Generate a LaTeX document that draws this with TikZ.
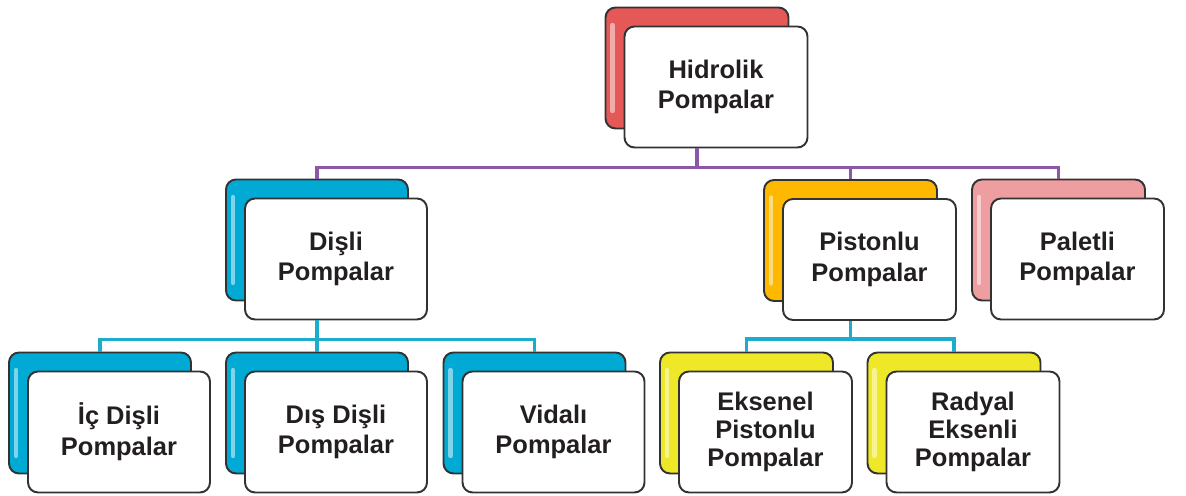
\documentclass[tikz,border=0pt]{standalone}
\usepackage{fontspec}
\setmainfont{Liberation Sans}

\definecolor{hidred}{RGB}{228,88,88}
\definecolor{gearcyan}{RGB}{0,170,212}
\definecolor{pistorange}{RGB}{255,184,0}
\definecolor{palpink}{RGB}{238,158,160}
\definecolor{eksyellow}{RGB}{238,232,40}
\definecolor{purplebus}{RGB}{138,88,166}
\definecolor{cyanbus}{RGB}{28,172,204}
\definecolor{boxline}{RGB}{50,50,50}
\definecolor{txt}{RGB}{35,31,32}

\begin{document}
\begin{tikzpicture}[x=0.02cm, y=0.02cm,
			cardback/.style={draw=boxline, line width=1.1pt, rounded corners=0.2cm, minimum width=3.64cm, minimum height=2.42cm, inner sep=0pt,
				path picture={\draw[white, opacity=0.5, line width=2.5pt, line cap=round] ([xshift=0.14cm, yshift=-0.35cm]path picture bounding box.north west) -- ([xshift=0.14cm, yshift=0.35cm]path picture bounding box.south west);}},
			card/.style={draw=boxline, line width=1.1pt, rounded corners=0.2cm, minimum width=3.64cm, minimum height=2.42cm, inner sep=0pt,
				fill=white, text=txt, align=center, font=\bfseries\fontsize{14.5}{17.5}\selectfont},
			narrow/.style={minimum width=3.46cm},
			threeline/.style={font=\bfseries\fontsize{14.5}{16}\selectfont},
			bus/.style={line width=2.2pt}]
			
			\useasboundingbox (0,0) rectangle (1186,496);
			
			% top
			\node[cardback, minimum width=3.66cm, fill=hidred] (hidb) at (697,428) {};
			\node[card, minimum width=3.66cm] (hid) at ([shift={(19,-19)}]hidb.center) {Hidrolik\\Pompalar};
			
			% middle row
			\node[cardback, fill=gearcyan] (disb) at (317,256) {};
			\node[card] (dis) at ([shift={(19,-19)}]disb.center) {Dişli\\Pompalar};
			\node[cardback, narrow, fill=pistorange] (pisb) at (850.5,255.5) {};
			\node[card, narrow] (pis) at ([shift={(19,-19)}]pisb.center) {Pistonlu\\Pompalar};
			\node[cardback, narrow, fill=palpink] (palb) at (1058.5,256) {};
			\node[card, narrow] (pal) at ([shift={(19,-19)}]palb.center) {Paletli\\Pompalar};
			
			% bottom row
			\node[cardback, fill=gearcyan] (icb) at (100,83) {};
			\node[card] (ic) at ([shift={(19,-19)}]icb.center) {İç Dişli\\Pompalar};
			\node[cardback, fill=gearcyan] (dsb) at (317,83) {};
			\node[card] (ds) at ([shift={(19,-19)}]dsb.center) {Dış Dişli\\Pompalar};
			\node[cardback, fill=gearcyan] (vidb) at (534.5,83) {};
			\node[card] (vid) at ([shift={(19,-19)}]vidb.center) {Vidalı\\Pompalar};
			\node[cardback, narrow, fill=eksyellow] (eksb) at (746.5,83) {};
			\node[card, narrow, threeline] (eks) at ([shift={(19,-19)}]eksb.center) {Eksenel\\Pistonlu\\Pompalar};
			\node[cardback, narrow, fill=eksyellow] (radb) at (954,83) {};
			\node[card, narrow, threeline] (rad) at ([shift={(19,-19)}]radb.center) {Radyal\\Eksenli\\Pompalar};
			
			% connectors
			\draw[bus, purplebus] (hidb.south |- hid.south) -- ++(0,-19) -| (disb.north);
			\draw[bus, purplebus] (hidb.south |- hid.south) -- ++(0,-19) -| (pisb.north);
			\draw[bus, purplebus] (hidb.south |- hid.south) -- ++(0,-19) -| (palb.north);
			\draw[bus, cyanbus] (disb.south |- dis.south) -- ++(0,-19) -| (icb.north);
			\draw[bus, cyanbus] (disb.south |- dis.south) -- ++(0,-19) -| (dsb.north);
			\draw[bus, cyanbus] (disb.south |- dis.south) -- ++(0,-19) -| (vidb.north);
			\draw[bus, cyanbus] (pisb.south |- pis.south) -- ++(0,-18) -| (eksb.north);
			\draw[bus, cyanbus] (pisb.south |- pis.south) -- ++(0,-18) -| (radb.north);
			
		\end{tikzpicture}
\end{document}
